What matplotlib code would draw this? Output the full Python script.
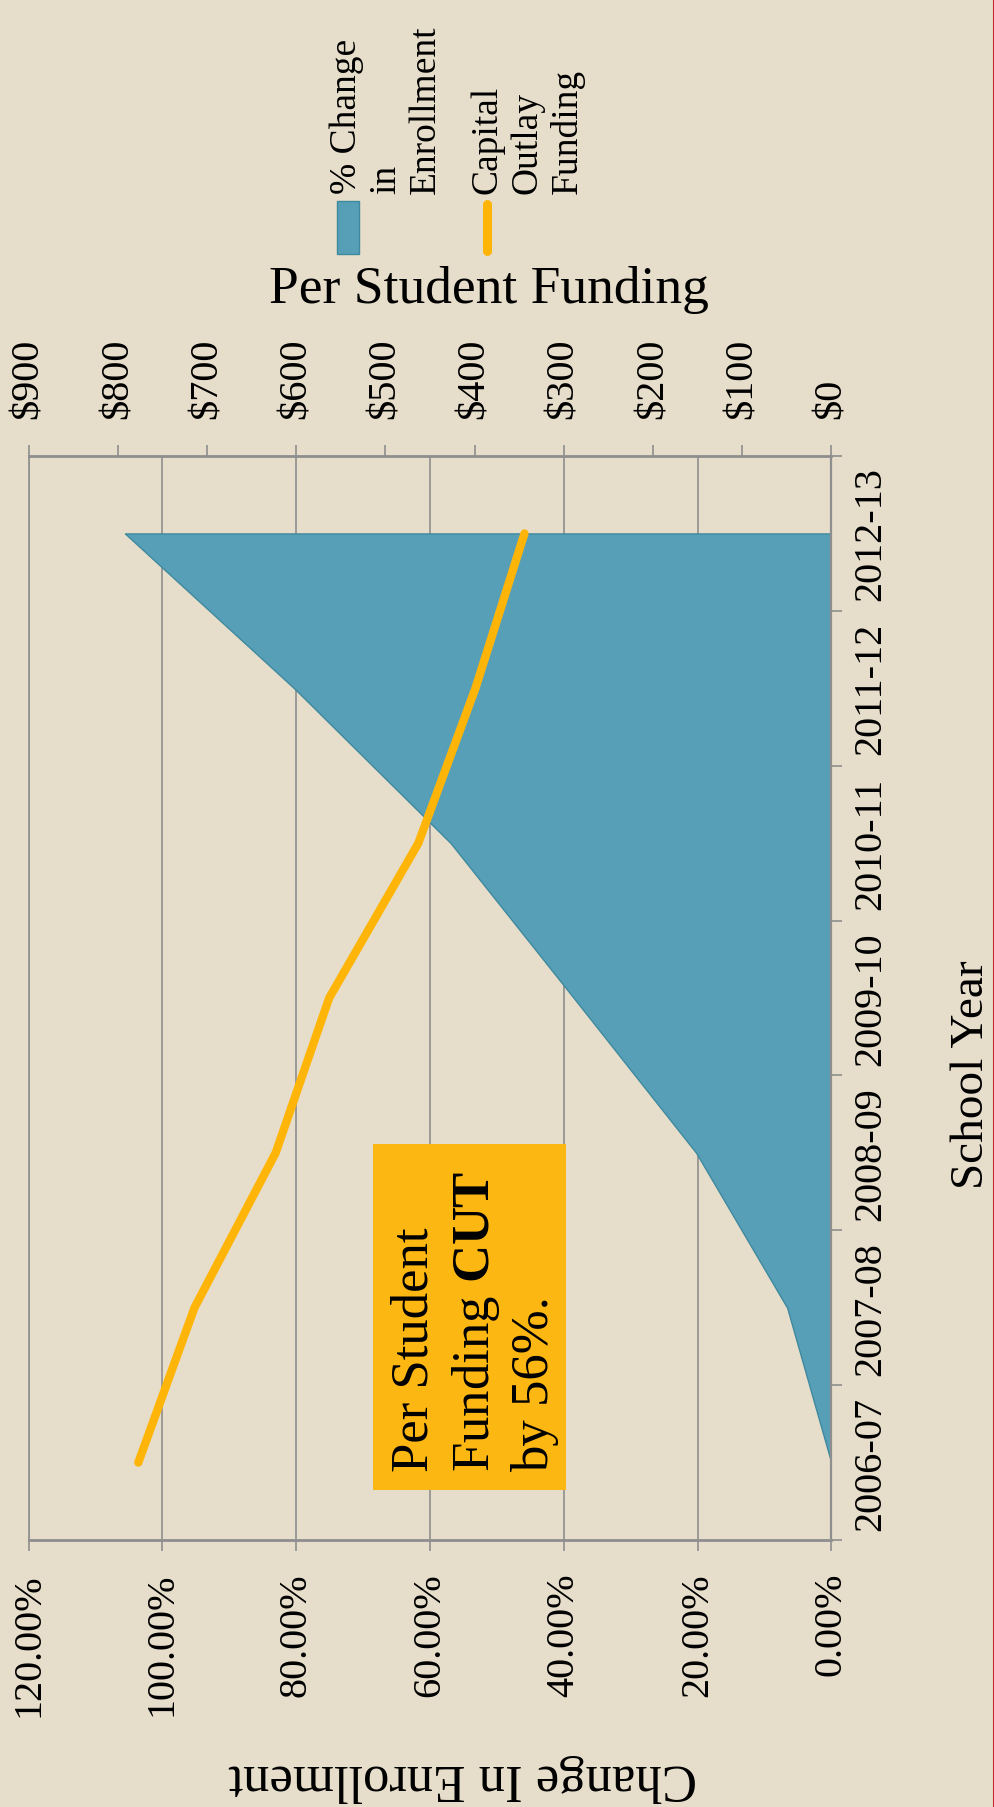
import matplotlib
matplotlib.use("Agg")
import matplotlib.pyplot as plt
from matplotlib.patches import Rectangle
from matplotlib.lines import Line2D
from matplotlib.ticker import FuncFormatter

# data (it is drawn turned 90 degrees)
years = ['2006-07', '2007-08', '2008-09', '2009-10', '2010-11', '2011-12', '2012-13']
enroll_change = [0.0, 6.6, 20.2, 38.5, 56.9, 80.3, 105.6]   # % change in enrollment
funding = [777, 714, 623, 563, 463, 399, 344]                # capital outlay $ per student
pct_ticks = [0, 20, 40, 60, 80, 100, 120]
dollar_ticks = [0, 100, 200, 300, 400, 500, 600, 700, 800, 900]

BG = '#E6DECA'
BLUE = '#579FB6'
BLUE_EDGE = '#3F899F'
GOLD = '#FFB508'
BOX = '#FDB713'
GRID = '#8E8E8E'

plt.rcParams['font.family'] = ['Liberation Serif', 'DejaVu Serif']
plt.rcParams['mathtext.fontset'] = 'custom'
plt.rcParams['mathtext.rm'] = 'Liberation Serif'
plt.rcParams['mathtext.bf'] = 'Liberation Serif:bold'

W, H = 995, 1808


def fx(x):
    return x / W


def fy(y):
    return 1 - y / H


fig = plt.figure(figsize=(W / 100, H / 100), dpi=100, facecolor=BG)

left, right, top, bottom = 28.6, 831.3, 457, 1541
ax = fig.add_axes([fx(left), fy(bottom), (right - left) / W, (bottom - top) / H])
ax.set_facecolor(BG)

pos = list(range(len(years)))

# enrollment area (value axis runs right-to-left)
ax.fill_betweenx(pos, 0, enroll_change, facecolor=BLUE, edgecolor=BLUE_EDGE,
                 linewidth=1.0, zorder=2)
ax.set_xlim(120, 0)
ax.set_ylim(-0.5, 6.5)
ax.set_xticks(pct_ticks)
ax.xaxis.set_major_formatter(FuncFormatter(lambda v, p: '{:.2f}%'.format(v)))
ax.grid(axis='x', color=GRID, linewidth=1.2)
ax.set_axisbelow(True)
ax.tick_params(axis='x', direction='out', length=8, width=1.2, color=GRID,
               labelsize=29, pad=15, labelrotation=90)

# category axis on the right side
ax.yaxis.tick_right()
ax.set_yticks(pos)
ax.set_yticklabels(years)
ax.set_yticks([p - 0.5 for p in pos] + [6.5], minor=True)
ax.tick_params(axis='y', which='major', length=0, labelsize=29, pad=15,
               labelrotation=90)
ax.tick_params(axis='y', which='minor', direction='out', length=8, width=1.2,
               color=GRID)
for lab in ax.get_yticklabels():
    lab.set_va('center')

ax.spines['top'].set_visible(False)
ax.spines['left'].set_color(GRID)
ax.spines['left'].set_linewidth(1.2)
ax.spines['right'].set_color(GRID)
ax.spines['right'].set_linewidth(1.6)
ax.spines['bottom'].set_color(GRID)
ax.spines['bottom'].set_linewidth(2.0)

ax.set_xlabel('Change In Enrollment', fontsize=38, rotation=180, va='center')
ax.xaxis.set_label_coords((463 - left) / (right - left), -(1778 - bottom) / (bottom - top))
ax.yaxis.set_label_position('right')
ax.set_ylabel('School Year', fontsize=34, rotation=90)
ax.yaxis.label.set_va('center')
ax.yaxis.label.set_ha('center')
ax.yaxis.set_label_coords((972 - left) / (right - left), (bottom - 1075) / (bottom - top))

# per-student funding on the secondary (top) axis
ax2 = ax.twiny()
ax2.plot(funding, pos, color=GOLD, linewidth=6, solid_capstyle='round',
         solid_joinstyle='round', zorder=3)
ax2.set_xlim(900, 0)
ax2.set_xticks(dollar_ticks)
ax2.xaxis.set_major_formatter(FuncFormatter(lambda v, p: '${:.0f}'.format(v)))
ax2.tick_params(axis='x', direction='out', length=8, width=1.2, color=GRID,
                labelsize=29, pad=19, labelrotation=90)
for s in ['left', 'right', 'bottom']:
    ax2.spines[s].set_visible(False)
ax2.spines['top'].set_color(GRID)
ax2.spines['top'].set_linewidth(2.0)
ax2.set_xlabel('Per Student Funding', fontsize=38.5, va='baseline')
ax2.xaxis.set_label_coords((489 - left) / (right - left), (bottom - 303) / (bottom - top))

# legend, drawn turned like the rest of the chart
fig.add_artist(Rectangle((fx(337), fy(255)), fx(359) - fx(337), fy(202) - fy(255),
                         transform=fig.transFigure, facecolor=BLUE,
                         edgecolor=BLUE_EDGE, linewidth=1.0))
fig.text(fx(329), fy(194), '% Change\nin\nEnrollment', rotation=90,
         ha='left', va='bottom', fontsize=27)
fig.add_artist(Line2D([fx(487.5), fx(487.5)], [fy(252), fy(205)],
                      transform=fig.transFigure, color=GOLD, linewidth=6.5,
                      solid_capstyle='round'))
fig.text(fx(470), fy(194), 'Capital\nOutlay\nFunding', rotation=90,
         ha='left', va='bottom', fontsize=27)

# annotation box
fig.add_artist(Rectangle((fx(373), fy(1491)), fx(566) - fx(373), fy(1145) - fy(1491),
                         transform=fig.transFigure, facecolor=BOX, edgecolor='none'))
fig.text(fx(391), fy(1472), 'Per Student\nFunding $\\mathbf{CUT}$\nby 56%.',
         rotation=90, ha='left', va='bottom', fontsize=38, color='black',
         linespacing=1.27)

# thin red edge on the right
fig.add_artist(Line2D([fx(994), fx(994)], [0, 1], transform=fig.transFigure,
                      color='#C8262B', linewidth=1.5))

fig.savefig('out.png', dpi=100, facecolor=BG)
